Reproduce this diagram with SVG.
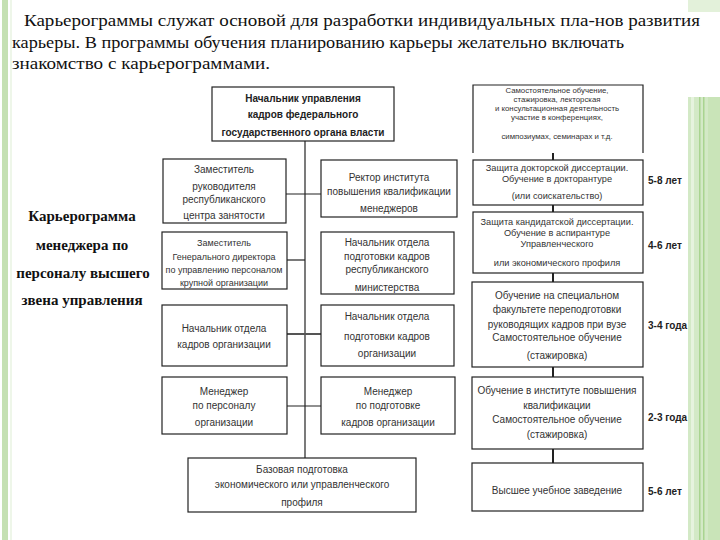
<svg xmlns="http://www.w3.org/2000/svg" width="720" height="540" viewBox="0 0 720 540">
<style>
.box{fill:#fff;stroke:#222;stroke-width:1.2}
.t{font-family:"Liberation Sans",Arial,sans-serif;font-size:10px;fill:#333;text-anchor:middle}
.s{font-size:9px}
.m{font-size:9.2px}
.xs{font-size:7.8px}
.b{font-weight:bold;fill:#222}
.lbl{font-family:"Liberation Sans",Arial,sans-serif;font-size:10px;font-weight:bold;fill:#222}
.head{font-size:17.5px;fill:#111}
.side{font-size:15px;font-weight:bold;fill:#111;text-anchor:middle}
.c{stroke:#222;stroke-width:1.2;fill:none}
</style>
<rect width="720" height="540" fill="#fff"/>
<g id="decor">
<rect x="2" y="0" width="6" height="540" fill="#c5e0b3"/>
<rect x="10" y="0" width="2" height="540" fill="#eef6e9"/>
<rect x="688" y="97" width="32" height="443" fill="#d3e9c6"/>
<rect x="688" y="0" width="32" height="12" fill="#e3f1da"/>
<rect x="691" y="97" width="3" height="443" fill="#e6f3de"/>
<rect x="699" y="97" width="1.5" height="443" fill="#a9d490"/>
<rect x="703" y="97" width="1.5" height="443" fill="#a9d490"/>
<rect x="708" y="97" width="12" height="443" fill="#c9e4b8"/>
</g>
<g id="intro" font-family="Liberation Serif, Times New Roman, Times, serif">
<text class="head" x="24" y="26" textLength="676" lengthAdjust="spacingAndGlyphs">Карьерограммы служат основой для разработки индивидуальных пла-нов развития</text>
<text class="head" x="12" y="48" textLength="612" lengthAdjust="spacingAndGlyphs">карьеры. В программы обучения планированию карьеры желательно включать</text>
<text class="head" x="12" y="69" textLength="258" lengthAdjust="spacingAndGlyphs">знакомство с карьерограммами.</text>
</g>
<g id="side-title" font-family="Liberation Serif, Times New Roman, Times, serif">
<text class="side" x="82" y="221">Карьерограмма</text>
<text class="side" x="82" y="250">менеджера по</text>
<text class="side" x="83" y="278">персоналу высшего</text>
<text class="side" x="82" y="305">звена управления</text>
</g>
<g id="connectors">
<line class="c" x1="305" y1="141" x2="305" y2="458"/>
<line class="c" x1="286" y1="194" x2="321" y2="194"/>
<line class="c" x1="287" y1="260" x2="305" y2="260"/>
<line x1="287" y1="334" x2="321" y2="334" stroke="#555" stroke-width="2"/>
<line class="c" x1="287" y1="406" x2="321" y2="406"/>
<line x1="553" y1="153" x2="553" y2="160" stroke="#222" stroke-width="2"/>
<line x1="553" y1="205" x2="553" y2="212" stroke="#222" stroke-width="2"/>
<line x1="553" y1="273" x2="553" y2="282" stroke="#222" stroke-width="2"/>
<line x1="553" y1="367" x2="553" y2="377" stroke="#222" stroke-width="2"/>
<line x1="553" y1="449" x2="553" y2="463" stroke="#222" stroke-width="2"/>
</g>
<g id="n-top">
<rect class="box" x="212" y="87" width="182" height="54"/>
<text class="t b" x="303" y="102">Начальник управления</text>
<text class="t b" x="303" y="118">кадров федерального</text>
<text class="t b" x="303" y="136">государственного органа власти</text>
</g>
<g id="n-l1">
<rect class="box" x="163" y="159" width="123" height="64"/>
<text class="t" x="224" y="173">Заместитель</text>
<text class="t" x="224" y="190">руководителя</text>
<text class="t" x="224" y="203">республиканского</text>
<text class="t" x="224" y="219">центра занятости</text>
</g>
<g id="n-r1">
<rect class="box" x="321" y="160" width="136" height="57"/>
<text class="t" x="389" y="181">Ректор института</text>
<text class="t" x="389" y="195">повышения квалификации</text>
<text class="t" x="389" y="212">менеджеров</text>
</g>
<g id="n-l2">
<rect class="box" x="162" y="232" width="125" height="57"/>
<text class="t s" x="224" y="246">Заместитель</text>
<text class="t s" x="224" y="260">Генерального директора</text>
<text class="t s" x="224" y="273">по управлению персоналом</text>
<text class="t s" x="224" y="286">крупной организации</text>
</g>
<g id="n-r2">
<rect class="box" x="321" y="232" width="133" height="62"/>
<text class="t" x="387" y="246">Начальник отдела</text>
<text class="t" x="387" y="260">подготовки кадров</text>
<text class="t" x="387" y="273">республиканского</text>
<text class="t" x="387" y="291">министерства</text>
</g>
<g id="n-l3">
<rect class="box" x="162" y="305" width="125" height="61"/>
<text class="t" x="224" y="332">Начальник отдела</text>
<text class="t" x="224" y="348">кадров организации</text>
</g>
<g id="n-r3">
<rect class="box" x="321" y="305" width="133" height="61"/>
<text class="t" x="387" y="320">Начальник отдела</text>
<text class="t" x="387" y="340">подготовки кадров</text>
<text class="t" x="387" y="357">организации</text>
</g>
<g id="n-l4">
<rect class="box" x="162" y="377" width="125" height="57"/>
<text class="t" x="224" y="395">Менеджер</text>
<text class="t" x="224" y="409">по персоналу</text>
<text class="t" x="224" y="426">организации</text>
</g>
<g id="n-r4">
<rect class="box" x="321" y="377" width="134" height="57"/>
<text class="t" x="388" y="395">Менеджер</text>
<text class="t" x="388" y="409">по подготовке</text>
<text class="t" x="388" y="426">кадров организации</text>
</g>
<g id="n-base">
<rect class="box" x="188" y="458" width="228" height="54"/>
<text class="t" x="302" y="473">Базовая подготовка</text>
<text class="t" x="302" y="488">экономического или управленческого</text>
<text class="t" x="302" y="506">профиля</text>
</g>
<g id="n-a">
<path class="c" d="M473,153 V85 H643 V153"/>
<text class="t xs" x="557" y="93">Самостоятельное обучение,</text>
<text class="t xs" x="557" y="102">стажировка, лекторская</text>
<text class="t xs" x="557" y="111">и консультационная деятельность</text>
<text class="t xs" x="557" y="120">участие в конференциях,</text>
<text class="t xs" x="557" y="139">симпозиумах, семинарах и т.д.</text>
</g>
<g id="n-b">
<rect class="box" x="473" y="160" width="170" height="45"/>
<text class="t m" x="557" y="171">Защита докторской диссертации.</text>
<text class="t m" x="557" y="182">Обучение в докторантуре</text>
<text class="t m" x="557" y="199">(или соискательство)</text>
</g>
<g id="n-c">
<rect class="box" x="473" y="212" width="170" height="61"/>
<text class="t m" x="557" y="225">Защита кандидатской диссертации.</text>
<text class="t m" x="557" y="236">Обучение в аспирантуре</text>
<text class="t m" x="557" y="247">Управленческого</text>
<text class="t m" x="557" y="266">или экономического профиля</text>
</g>
<g id="n-d">
<rect class="box" x="472" y="282" width="171" height="85"/>
<text class="t" x="557" y="299">Обучение на специальном</text>
<text class="t" x="557" y="313">факультете переподготовки</text>
<text class="t" x="557" y="328">руководящих кадров при вузе</text>
<text class="t" x="557" y="341">Самостоятельное обучение</text>
<text class="t" x="557" y="359">(стажировка)</text>
</g>
<g id="n-e">
<rect class="box" x="472" y="377" width="171" height="72"/>
<text class="t" x="557" y="394">Обучение в институте повышения</text>
<text class="t" x="557" y="409">квалификации</text>
<text class="t" x="557" y="423">Самостоятельное обучение</text>
<text class="t" x="557" y="438">(стажировка)</text>
</g>
<g id="n-f">
<rect class="box" x="472" y="463" width="171" height="48"/>
<text class="t" x="557" y="494">Высшее учебное заведение</text>
</g>
<g id="durations">
<text class="lbl" x="648" y="184">5-8 лет</text>
<text class="lbl" x="648" y="249">4-6 лет</text>
<text class="lbl" x="648" y="329">3-4 года</text>
<text class="lbl" x="648" y="421">2-3 года</text>
<text class="lbl" x="648" y="495">5-6 лет</text>
</g>
</svg>
